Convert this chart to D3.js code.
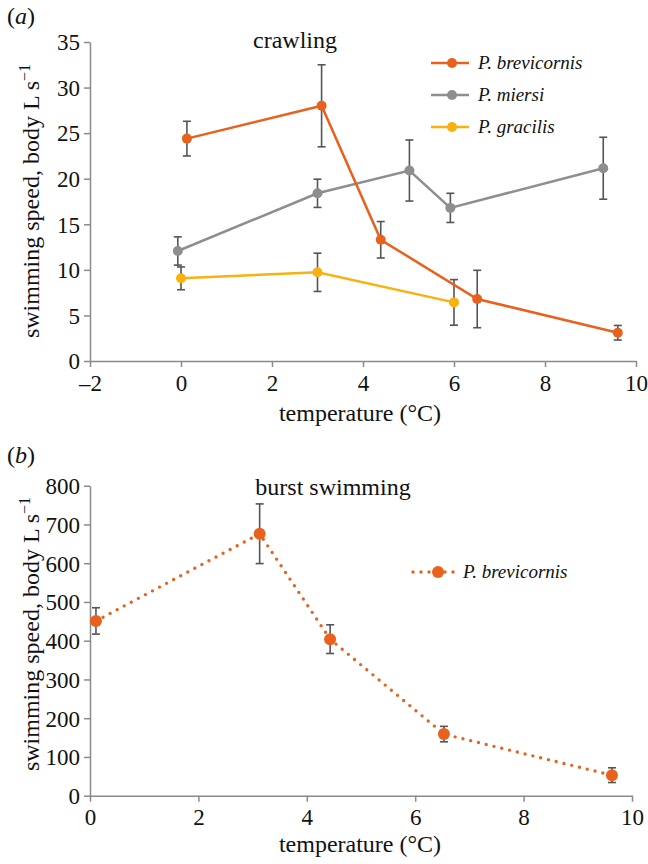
<!DOCTYPE html>
<html><head><meta charset="utf-8">
<script src="https://cdn.jsdelivr.net/npm/d3@7"></script>
<style>
html,body{margin:0;padding:0;background:#fff;}
svg text{font-family:"Liberation Serif","Times New Roman",serif;fill:#111;}
</style></head>
<body>
<svg id="chart" width="648" height="864"></svg>
<script>
// ---- Data (panel a: crawling) ----
const brevTemp = [0.13, 3.09, 4.39, 6.51, 9.6];
const brevCrawl = [24.4, 28.0, 13.3, 6.8, 3.1];
const brevCrawlErr = [1.9, 4.5, 2.0, 3.15, 0.8];

const miersiTemp = [-0.07, 3.0, 5.02, 5.92, 9.28];
const miersiCrawl = [12.07, 18.4, 20.9, 16.8, 21.15];
const miersiCrawlErr = [1.55, 1.55, 3.35, 1.6, 3.4];

const gracilisTemp = [0.0, 3.0, 6.0];
const gracilisCrawl = [9.07, 9.73, 6.43];
const gracilisCrawlErr = [1.25, 2.1, 2.5];

// ---- Data (panel b: burst swimming) ----
const burstTemp = [0.11, 3.13, 4.43, 6.53, 9.63];
const burstSpeed = [451, 676, 404, 159, 53];
const burstErr = [34, 77, 37, 20, 19];

// ---- Ticks ----
const xTicksA = [-2, 0, 2, 4, 6, 8, 10];
const yTicksA = [0, 5, 10, 15, 20, 25, 30, 35];
const xTicksB = [0, 2, 4, 6, 8, 10];
const yTicksB = [0, 100, 200, 300, 400, 500, 600, 700, 800];

const cOrange = "#E8611D", cGray = "#8E8E8E", cYellow = "#F7B20F";
const axisColor = "#8a8a8a", errColor = "#555";

const svg = d3.select("#chart");

function fmt(d){ return d < 0 ? "\u2013" + Math.abs(d) : String(d); }

function drawAxes(g, x, y, xTicks, yTicks){
  const xa = g.append("g").attr("transform", `translate(0,${y.range()[0]})`)
    .call(d3.axisBottom(x).tickValues(xTicks).tickSize(6).tickSizeOuter(0).tickPadding(4).tickFormat(fmt));
  const ya = g.append("g").attr("transform", `translate(${x.range()[0]},0)`)
    .call(d3.axisLeft(y).tickValues(yTicks).tickSize(6).tickSizeOuter(0).tickPadding(4));
  [xa, ya].forEach(a => {
    a.select(".domain").attr("stroke", axisColor).attr("stroke-width", 1.5);
    a.selectAll(".tick line").attr("stroke", axisColor).attr("stroke-width", 1.5);
    a.selectAll(".tick text").attr("font-size", 23).attr("fill", "#111")
      .attr("font-family", "Liberation Serif");
  });
  xa.selectAll(".tick text").attr("dy", "0.85em");
  ya.selectAll(".tick text").attr("dy", "0.34em");
}

function drawSeries(g, x, y, xs, ys, es, color, opts){
  const pts = xs.map((t, i) => ({t, v: ys[i], e: es[i]}));
  const line = d3.line().x(d => x(d.t)).y(d => y(d.v));
  const path = g.append("path").datum(pts).attr("d", line)
    .attr("fill", "none").attr("stroke", color);
  if (opts.dotted) {
    path.attr("stroke-width", 3.4).attr("stroke-dasharray", "0,8").attr("stroke-linecap", "round");
  } else {
    path.attr("stroke-width", 2.5);
  }
  const eb = g.append("g").attr("stroke", errColor).attr("stroke-width", 1.6);
  pts.forEach(d => {
    const cx = x(d.t), y1 = y(d.v + d.e), y2 = y(d.v - d.e);
    eb.append("line").attr("x1", cx).attr("x2", cx).attr("y1", y1).attr("y2", y2);
    eb.append("line").attr("x1", cx - 4).attr("x2", cx + 4).attr("y1", y1).attr("y2", y1);
    eb.append("line").attr("x1", cx - 4).attr("x2", cx + 4).attr("y1", y2).attr("y2", y2);
  });
  g.append("g").selectAll("circle").data(pts).join("circle")
    .attr("cx", d => x(d.t)).attr("cy", d => y(d.v)).attr("r", opts.r).attr("fill", color);
}

// ---- Panel a ----
const xA = d3.scaleLinear().domain([-2, 10]).range([90, 636]);
const yA = d3.scaleLinear().domain([0, 35]).range([361, 42]);
const gA = svg.append("g");
drawAxes(gA, xA, yA, xTicksA, yTicksA);
drawSeries(gA, xA, yA, gracilisTemp, gracilisCrawl, gracilisCrawlErr, cYellow, {r: 5});
drawSeries(gA, xA, yA, miersiTemp, miersiCrawl, miersiCrawlErr, cGray, {r: 5});
drawSeries(gA, xA, yA, brevTemp, brevCrawl, brevCrawlErr, cOrange, {r: 5});

svg.append("text").attr("x", 7).attr("y", 24).attr("font-size", 24)
  .html('(<tspan font-style="italic">a</tspan>)');
svg.append("text").attr("x", 295).attr("y", 48).attr("font-size", 24)
  .attr("text-anchor", "middle").text("crawling");
svg.append("text").attr("x", 360).attr("y", 421).attr("font-size", 24)
  .attr("text-anchor", "middle").text("temperature (\u00B0C)");
svg.append("text").attr("transform", "translate(39,201) rotate(-90)").attr("font-size", 24)
  .attr("text-anchor", "middle")
  .html('swimming speed, body L s<tspan dy="-9" font-size="16">\u22121</tspan>');

// legend a
const legA = [["P. brevicornis", cOrange], ["P. miersi", cGray], ["P. gracilis", cYellow]];
legA.forEach((d, i) => {
  const ly = 63 + i * 32;
  svg.append("line").attr("x1", 431).attr("x2", 469).attr("y1", ly).attr("y2", ly)
    .attr("stroke", d[1]).attr("stroke-width", 2.5);
  svg.append("circle").attr("cx", 452).attr("cy", ly).attr("r", 5).attr("fill", d[1]);
  svg.append("text").attr("x", 478).attr("y", ly + 6).attr("font-size", 19)
    .attr("font-style", "italic").text(d[0]);
});

// ---- Panel b ----
const xB = d3.scaleLinear().domain([0, 10]).range([90, 632]);
const yB = d3.scaleLinear().domain([0, 800]).range([795.7, 485.7]);
const gB = svg.append("g");
drawAxes(gB, xB, yB, xTicksB, yTicksB);
drawSeries(gB, xB, yB, burstTemp, burstSpeed, burstErr, cOrange, {r: 6, dotted: true});

svg.append("text").attr("x", 7).attr("y", 463).attr("font-size", 24)
  .html('(<tspan font-style="italic">b</tspan>)');
svg.append("text").attr("x", 333).attr("y", 495).attr("font-size", 24)
  .attr("text-anchor", "middle").text("burst swimming");
svg.append("text").attr("x", 360).attr("y", 852).attr("font-size", 24)
  .attr("text-anchor", "middle").text("temperature (\u00B0C)");
svg.append("text").attr("transform", "translate(39,634) rotate(-90)").attr("font-size", 24)
  .attr("text-anchor", "middle")
  .html('swimming speed, body L s<tspan dy="-9" font-size="16">\u22121</tspan>');

// legend b
svg.append("line").attr("x1", 413).attr("x2", 457).attr("y1", 572).attr("y2", 572)
  .attr("stroke", cOrange).attr("stroke-width", 3.4).attr("stroke-dasharray", "0,8")
  .attr("stroke-linecap", "round");
svg.append("circle").attr("cx", 438).attr("cy", 572).attr("r", 6).attr("fill", cOrange);
svg.append("text").attr("x", 463).attr("y", 578).attr("font-size", 19)
  .attr("font-style", "italic").text("P. brevicornis");
</script>
</body></html>
